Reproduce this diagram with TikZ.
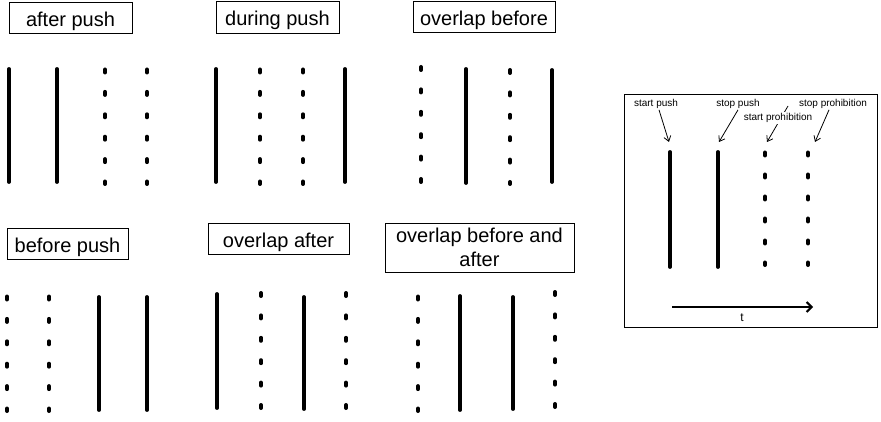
\documentclass[tikz,border=0pt]{standalone}
\usepackage{fontspec}
\setmainfont{Liberation Sans}
\usepackage{tikz}
\usetikzlibrary{arrows.meta, positioning}
\tikzstyle{caption} = [rectangle, draw, fill=white, line width=0.8pt,
    inner sep=0pt, align=center, text depth=0pt, font=\fontsize{20}{24}\selectfont]
\tikzstyle{one line} = [text height=18pt]
\tikzstyle{solid line} = [line width=3.8pt, line cap=round]
\tikzstyle{dot line} = [line width=4pt, line cap=round, dash pattern=on 3pt off 19.4pt]
\tikzstyle{note} = [font=\fontsize{10}{12}\selectfont, inner sep=1pt]
\tikzstyle{pointer} = [line width=0.8pt, -{Straight Barb[length=5pt,width=7pt]}]

\begin{document}
\begin{tikzpicture}[x=1pt, y=-1pt]
    \useasboundingbox (0,0) rectangle (881,422);

    % Place captions
	\node [caption, one line, minimum width=123pt, minimum height=31pt] (AfterPush) at (70.5,17.5) {after push};
	\node [caption, one line, minimum width=123pt, minimum height=32pt] (DuringPush) at (277.5,17) {during push};
	\node [caption, one line, minimum width=142pt, minimum height=31pt] (OverlapBefore) at (484,16.5) {overlap before};
	\node [caption, one line, minimum width=121pt, minimum height=31pt] (BeforePush) at (67.5,243.5) {before push};
	\node [caption, one line, minimum width=141pt, minimum height=31pt] (OverlapAfter) at (278.5,238.5) {overlap after};
	\node [caption, minimum width=189pt, minimum height=49pt] (OverlapBeforeAfter) at (479.5,247.5) {overlap before and\\after};

	% after push
	\draw [solid line] (9,69) -- (9,182);
	\draw [solid line] (57,69) -- (57,182);
	\draw [dot line] (105,69.5) -- (105,184);
	\draw [dot line] (147,69.5) -- (147,184);

	% during push
	\draw [solid line] (216,69) -- (216,182);
	\draw [dot line] (260,69.5) -- (260,184);
	\draw [dot line] (303,69.5) -- (303,184);
	\draw [solid line] (345,69) -- (345,182);

	% overlap before
	\draw [dot line] (421,67) -- (421,182);
	\draw [solid line] (466,69) -- (466,183);
	\draw [dot line] (510,70) -- (510,184);
	\draw [solid line] (552,70) -- (552,182);

	% before push
	\draw [dot line] (7,296.5) -- (7,411);
	\draw [dot line] (49,296.5) -- (49,411);
	\draw [solid line] (99,297) -- (99,410);
	\draw [solid line] (147,297) -- (147,410);

	% overlap after
	\draw [solid line] (217,294) -- (217,408);
	\draw [dot line] (261,293) -- (261,408);
	\draw [solid line] (304,297) -- (304,409);
	\draw [dot line] (346,293) -- (346,408);

	% overlap before and after
	\draw [dot line] (418,296.5) -- (418,411);
	\draw [solid line] (460,296) -- (460,410);
	\draw [solid line] (513,297) -- (513,409);
	\draw [dot line] (555,292) -- (555,407);

	% legend
	\draw [line width=0.8pt] (624,94) rectangle (877,327);
	\draw [solid line] (670,152) -- (670,267);
	\draw [solid line] (718,152) -- (718,267);
	\draw [dot line, dash pattern=on 3pt off 19pt] (765,152.5) -- (765,265);
	\draw [dot line, dash pattern=on 3pt off 19pt] (808,152.5) -- (808,265);

	\coordinate (ProhibitionTail) at (788,106);
	\coordinate (ProhibitionTip) at (767,142);
	\draw [pointer] (ProhibitionTail) -- (ProhibitionTip);

	\node [note] (StartPush) at (656,104) {start push};
	\node [note] (StopPush) at (738,104) {stop push};
	\node [note, fill=white] (StartProhibition) at (778,118) {start prohibition};
	\node [note] (StopProhibition) at (833,104) {stop prohibition};

	\coordinate (StartPushTip) at (669,142);
	\coordinate (StopPushTip) at (719,142);
	\coordinate (StopProhibitionTip) at (815,142);
	\draw [pointer] ([xshift=3pt]StartPush.south) -- (StartPushTip);
	\draw [pointer] (StopPush.south) -- (StopPushTip);
	\draw [pointer] ([xshift=-4pt]StopProhibition.south) -- (StopProhibitionTip);

	\coordinate (TimeStart) at (672,307);
	\coordinate (TimeEnd) at (813,307);
	\draw [line width=2pt, -{Straight Barb[length=5pt,width=10pt]}] (TimeStart) -- (TimeEnd);
	\node [font=\fontsize{12}{14}\selectfont] (Time) at (742,318) {t};

\end{tikzpicture}
\end{document}
